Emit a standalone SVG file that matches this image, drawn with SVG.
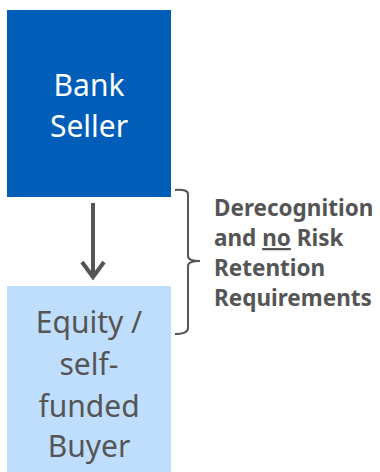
<svg xmlns="http://www.w3.org/2000/svg" width="380" height="472" viewBox="0 0 380 472">
<style>
.big{font-family:"Noto Sans","Open Sans",sans-serif;font-size:30px;text-anchor:middle}
.lbl{font-family:"Noto Sans","Open Sans",sans-serif;font-size:22.5px;font-weight:bold;fill:#555555}
</style>
<rect width="380" height="472" fill="#ffffff"/>
<g id="seller">
<rect x="7" y="10" width="164" height="187" fill="#005EB8"/>
<text class="big" x="89" y="96" fill="#ffffff">Bank</text>
<text class="big" x="89" y="137" fill="#ffffff">Seller</text>
</g>
<g id="buyer">
<rect x="7" y="286" width="164" height="186" fill="#BFDEFD"/>
<text class="big" x="89" y="333" fill="#555555">Equity /</text>
<text class="big" x="89" y="375" fill="#555555">self-</text>
<text class="big" x="89" y="417" fill="#555555">funded</text>
<text class="big" x="89" y="457" fill="#555555">Buyer</text>
</g>
<g id="connectors">
<line x1="93" y1="203" x2="93" y2="276" stroke="#555555" stroke-width="4"/>
<path d="M82,262 L93,277 L104,262" fill="none" stroke="#555555" stroke-width="4" stroke-linejoin="miter"/>
<path d="M175,190 Q188,189 188,194 L188,256 Q188,261 200,261 Q188,261 188,266 L188,328 Q188,334 175,334" fill="none" stroke="#555555" stroke-width="2"/>
</g>
<g id="label">
<text class="lbl" x="214" y="216">Derecognition</text>
<text class="lbl" x="214" y="246">and <tspan text-decoration="underline">no</tspan> Risk</text>
<text class="lbl" x="214" y="276">Retention</text>
<text class="lbl" x="214" y="306">Requirements</text>
</g>
</svg>
